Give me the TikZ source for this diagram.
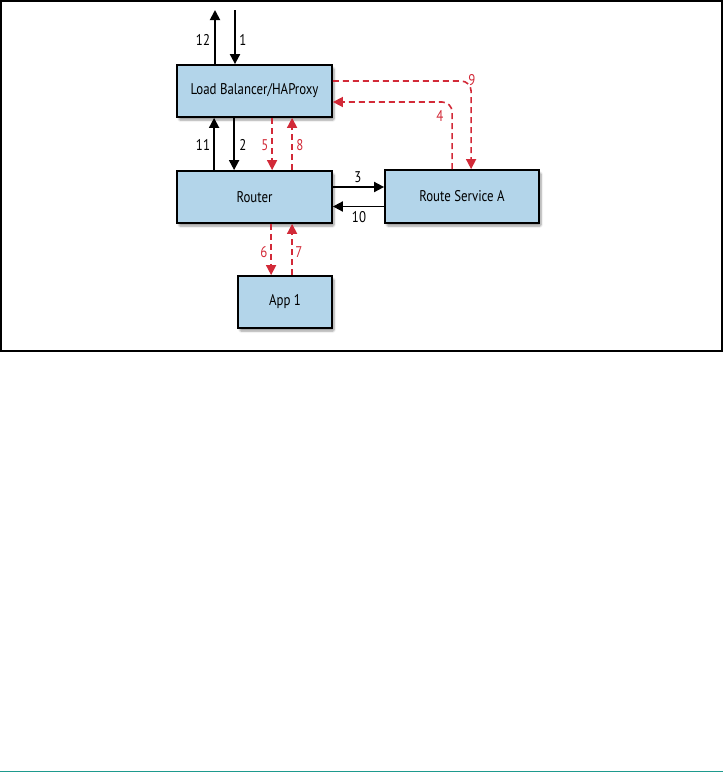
\documentclass[tikz,border=0pt]{standalone}
\usepackage{fontspec}
\setmainfont{PT Sans}[FakeStretch=0.83]
\usetikzlibrary{arrows.meta,shadows.blur}
\definecolor{boxblue}{HTML}{B3D5EA}
\definecolor{flowred}{HTML}{D22A38}
\definecolor{rule}{HTML}{1E9A8E}
\tikzset{
  box/.style={draw=black, line width=1.8pt, fill=boxblue, inner sep=0pt,
    font=\fontsize{15.5}{18}\selectfont,
    blur shadow={shadow xshift=2pt, shadow yshift=-3pt, shadow blur steps=6, shadow blur extra rounding=1pt}},
  blk/.style={draw=black, line width=1.8pt, -{Triangle[length=10pt,width=10pt]}},
  red/.style={draw=flowred, line width=1.6pt, dash pattern=on 6pt off 4pt, -{Triangle[length=10pt,width=10pt]}},
  lbl/.style={font=\fontsize{15.5}{18}\selectfont, inner sep=0pt},
  rlbl/.style={lbl, text=flowred},
}
\begin{document}
\begin{tikzpicture}[x=1pt,y=-1pt]
\useasboundingbox (0,0) rectangle (723,772);
\draw[line width=1.3pt] (1,1) rectangle (722,351);
\draw[rule, line width=1pt] (0,771) -- (723,771);

\node[box, minimum width=155pt, minimum height=52pt] (lb) at (254.5,91) {Load Balancer/HAProxy};
\node[box, minimum width=155pt, minimum height=52pt] (router) at (254.5,197) {Router};
\node[box, minimum width=154pt, minimum height=53pt] (rs) at (462,196.5) {Route Service A};
\node[box, minimum width=94pt, minimum height=52pt] (app) at (285,302) {App 1};

\coordinate (out12) at (215,10);
\coordinate (in1) at (235,10);
\draw[blk] (lb.north -| out12) -- (out12);
\draw[blk] (in1) -- (lb.north -| in1);

\draw[blk] ([xshift=38pt]router.north west) -- ([xshift=38pt]lb.south west);
\draw[blk] ([xshift=58pt]lb.south west) -- ([xshift=58pt]router.north west);
\draw[red] ([xshift=96pt]lb.south west) -- ([xshift=96pt]router.north west);
\draw[red] ([xshift=116pt]router.north west) -- ([xshift=116pt]lb.south west);

\draw[red] ([xshift=95pt]router.south west) -- ([xshift=34pt]app.north west);
\draw[red] ([xshift=55pt]app.north west) -- ([xshift=116pt]router.south west);

\draw[blk] ([yshift=10pt]router.east) -- ([yshift=10pt]router.east -| rs.west);
\draw[blk] ([yshift=-10pt]rs.west) -- ([yshift=-10pt]rs.west -| router.east);

\draw[red, rounded corners=10pt] ([yshift=10pt]lb.east) -| ([xshift=87pt]rs.north west);
\draw[red, rounded corners=10pt] ([xshift=68pt]rs.north west) |- ([yshift=-11pt]lb.east);

\node[lbl] (l12) at (203,40) {12};
\node[lbl] (l1) at (243,40) {1};
\node[lbl] (l11) at (203,145) {11};
\node[lbl] (l2) at (243,145) {2};
\node[rlbl] (l5) at (265,145) {5};
\node[rlbl] (l8) at (300,145) {8};
\node[rlbl] (l6) at (264,252) {6};
\node[rlbl] (l7) at (299,252) {7};
\node[lbl] (l3) at (358,177) {3};
\node[lbl] (l10) at (359,217) {10};
\node[rlbl] (l9) at (472,80) {9};
\node[rlbl] (l4) at (440,116) {4};
\end{tikzpicture}
\end{document}
